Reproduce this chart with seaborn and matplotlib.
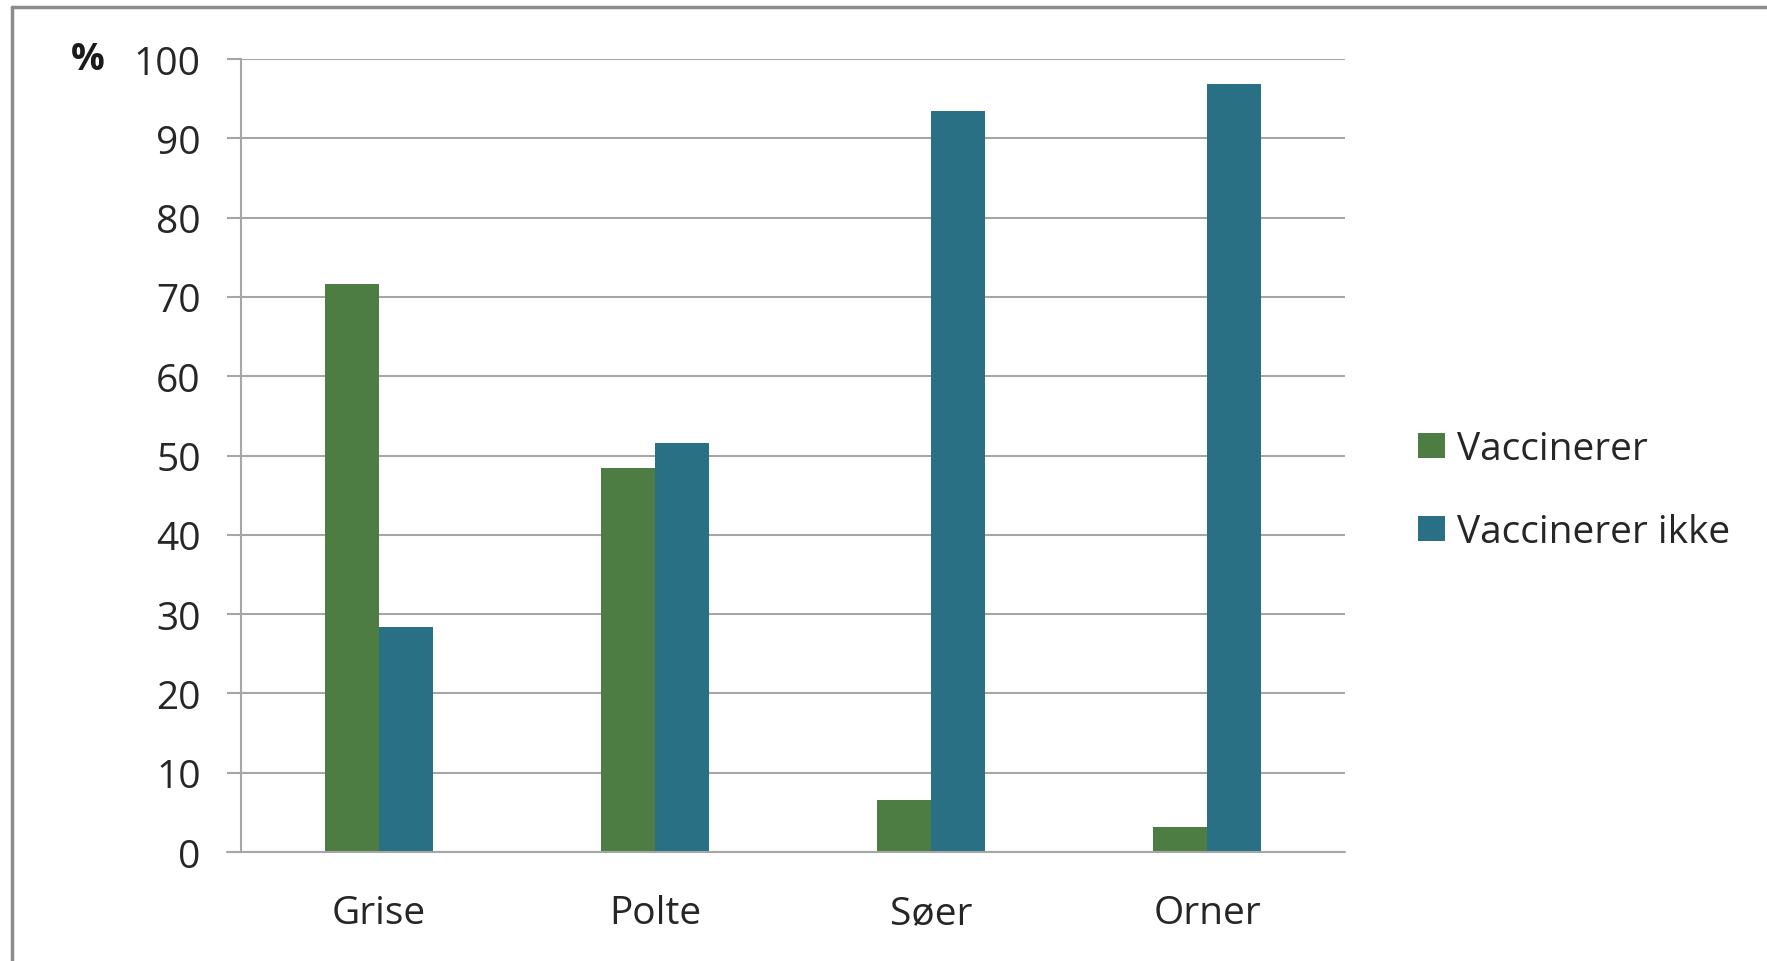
import pandas as pd
import matplotlib.pyplot as plt
import seaborn as sns
from matplotlib.lines import Line2D

categories = ['Grise', 'Polte', 'Søer', 'Orner']
vaccinerer = [71.6, 48.4, 6.5, 3.2]
vaccinerer_ikke = [28.4, 51.6, 93.5, 96.8]
series = ['Vaccinerer', 'Vaccinerer ikke']
colors = ['#4E7D43', '#2A7085']
yticks = [0, 10, 20, 30, 40, 50, 60, 70, 80, 90, 100]

df = pd.DataFrame({
    'kategori': categories * 2,
    'serie': [series[0]] * 4 + [series[1]] * 4,
    'pct': vaccinerer + vaccinerer_ikke,
})

sns.set_style('white')
plt.rcParams['font.family'] = ['Open Sans', 'DejaVu Sans']

fig = plt.figure(figsize=(17.67, 9.62), dpi=100)
ax = fig.add_axes([0.1364, 0.1133, 0.6248, 0.8243])

sns.barplot(data=df, x='kategori', y='pct', hue='serie', palette=colors,
            width=0.39, saturation=1, linewidth=0, ax=ax, legend=True)

grid_col = '#A6A6A6'
fs = 28
ax.set_xlim(-0.5, 3.5)
ax.set_ylim(0, 100)
ax.set_yticks(yticks)
ax.yaxis.grid(True, color=grid_col, linewidth=1.5, zorder=0)
ax.set_axisbelow(True)
for s in ['top', 'right', 'bottom']:
    ax.spines[s].set_visible(False)
ax.spines['left'].set_color(grid_col)
ax.spines['left'].set_linewidth(1.5)
ax.tick_params(axis='y', length=10, width=1.5, color=grid_col, pad=19,
               labelsize=fs, labelcolor='#262626', left=True)
ax.tick_params(axis='x', length=0, pad=30.5, labelsize=fs, labelcolor='#262626')
ax.set_xlabel('')
ax.set_ylabel('')

# baseline extends past the y axis like the tick marks
ax.plot([-0.5 - 14 / 276, 3.5], [0, 0], color=grid_col, lw=1.5,
        clip_on=False, zorder=3)

fig.text(88 / 1767, 1 - 60 / 962, '%', fontsize=fs - 1, fontweight='bold',
         ha='center', va='center', color='#1A1A1A')

handles, labels = ax.get_legend_handles_labels()
ax.legend(handles, labels, loc='center left',
          bbox_to_anchor=(1418 / 1767, 1 - 491.5 / 962),
          bbox_transform=fig.transFigure, frameon=False, fontsize=fs,
          handlelength=0.7, handleheight=0.62, handletextpad=0.3,
          labelspacing=1.15, borderpad=0, borderaxespad=0,
          labelcolor='#262626')

# outer frame (left and top edges only)
fig.add_artist(Line2D([12 / 1767, 12 / 1767], [0, 1 - 8 / 962],
                      color='#8C8C8C', lw=2.5, transform=fig.transFigure))
fig.add_artist(Line2D([12 / 1767, 1], [1 - 8 / 962, 1 - 8 / 962],
                      color='#8C8C8C', lw=2.5, transform=fig.transFigure))

fig.savefig('out.png', dpi=100)
